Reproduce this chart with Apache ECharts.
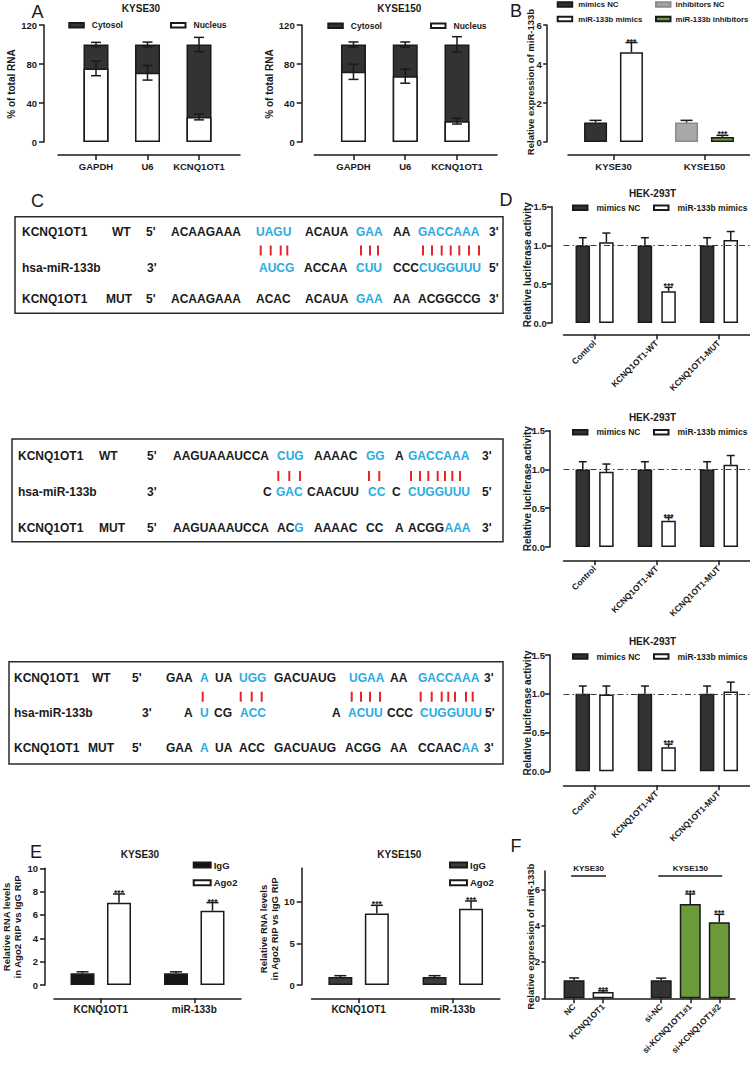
<!DOCTYPE html>
<html><head><meta charset="utf-8">
<script src="https://cdn.jsdelivr.net/npm/echarts@6/dist/echarts.min.js"></script>
<style>html,body{margin:0;padding:0;background:#fff;}#c{width:750px;height:1065px;}</style>
</head><body><div id="c"></div>
<script>
const FONT = '"Liberation Sans", Arial, Helvetica, sans-serif';
const INK = '#1a1a1a', DARK = '#333333', GREY = '#a8a8a8', GREEN = '#6b9b3a', BLUE = '#29abe2', RED = '#e52528';

// ---------------- DATA ----------------
// Panel A
const aCats = ['GAPDH', 'U6', 'KCNQ1OT1'];
const aTicks = [0, 40, 80, 120];
const aKyse30Nucleus = [75.4, 71, 25.7];
const aKyse30NucleusErr = [7.4, 7.5, 3];
const aKyse30Total = [100, 100, 100];
const aKyse30TotalErr = [2.2, 2.5, 7.3];
const aKyse150Nucleus = [72, 67.5, 21.3];
const aKyse150NucleusErr = [7.8, 7.2, 2.9];
const aKyse150Total = [100, 100, 100];
const aKyse150TotalErr = [2.6, 2.6, 8];
// Panel B
const bCats = ['KYSE30', 'KYSE150'];
const bTicks = [0, 2, 4, 6];
const bMimicsNC = [1.0, null], bMimicsNCErr = [0.11, null];
const bMimics = [4.6, null], bMimicsErr = [0.5, null], bMimicsStars = [1, 0];
const bInhibNC = [null, 1.0], bInhibNCErr = [null, 0.11];
const bInhib = [null, 0.26], bInhibErr = [null, 0.08], bInhibStars = [0, 1];
// Panel D
const dCats = ['Control', 'KCNQ1OT1-WT', 'KCNQ1OT1-MUT'];
const dTicks = [0, 0.5, 1.0, 1.5];
const d1NC = [1.0, 1.0, 1.0], d1NCErr = [0.1, 0.1, 0.1];
const d1Mim = [1.04, 0.41, 1.07], d1MimErr = [0.12, 0.05, 0.11];
const d2NC = [1.0, 1.0, 1.0], d2NCErr = [0.1, 0.1, 0.1];
const d2Mim = [0.97, 0.34, 1.06], d2MimErr = [0.1, 0.04, 0.12];
const d3NC = [1.0, 1.0, 1.0], d3NCErr = [0.1, 0.1, 0.1];
const d3Mim = [0.99, 0.31, 1.03], d3MimErr = [0.11, 0.04, 0.12];
const dStars = [0, 1, 0];
// Panel E
const eCats = ['KCNQ1OT1', 'miR-133b'];
const e1Ticks = [0, 2, 4, 6, 8, 10];
const e2Ticks = [0, 5, 10];
const e1IgG = [1.0, 1.0], e1IgGErr = [0.13, 0.13];
const e1Ago2 = [7.05, 6.37], e1Ago2Err = [0.75, 0.69];
const e2IgG = [0.95, 0.95], e2IgGErr = [0.17, 0.17];
const e2Ago2 = [8.59, 9.15], e2Ago2Err = [0.97, 0.93];
const eStars = [1, 1];
// Panel F
const fCats = ['NC', 'KCNQ1OT1', 'si-NC', 'si-KCNQ1OT1#1', 'si-KCNQ1OT1#2'];
const fGroupOf = [0, 0, 1, 1, 1];
const fGroupNames = ['KYSE30', 'KYSE150'];
const fTicks = [0, 2, 4, 6];
const fValues = [1.0, 0.34, 1.0, 5.19, 4.18];
const fErr = [0.12, 0.07, 0.11, 0.55, 0.44];
const fStars = [0, 1, 0, 1, 1];
const fColors = [DARK, '#ffffff', DARK, GREEN, GREEN];

// ---------------- BUILDERS ----------------
const grid = [], xAxis = [], yAxis = [], series = [], legend = [], graphic = [];
const lineStyle = { color: INK, width: 1.5 };
const lblBase = { color: INK, fontWeight: 'bold', fontFamily: FONT, fontSize: 9.5 };

function addGrid(g) { grid.push(Object.assign({ containLabel: false }, g)); return grid.length - 1; }
function yAxisV(gi, max, ticks, offset, fmt, margin, tickLen) {
  yAxis.push({ type: 'value', gridIndex: gi, min: 0, max: max, offset: offset,
    axisLine: { show: true, onZero: false, lineStyle },
    axisTick: { show: true, length: tickLen || 5, customValues: ticks, lineStyle },
    axisLabel: Object.assign({ customValues: ticks, margin: margin || 7, hideOverlap: false, formatter: fmt || (v => String(v)) }, lblBase),
    splitLine: { show: false } });
  return yAxis.length - 1;
}
function xAxisCat(gi, cats, offset, lbl) {
  xAxis.push({ type: 'category', gridIndex: gi, data: cats, offset: offset,
    axisLine: { show: true, onZero: false, lineStyle },
    axisTick: { show: true, alignWithLabel: true, interval: 0, length: 5, lineStyle },
    axisLabel: Object.assign({ interval: 0, margin: 6, hideOverlap: false }, lblBase, lbl || {}),
    splitLine: { show: false } });
  return xAxis.length - 1;
}
function xAxisVal(gi, min, max, ticks, fmt, offset, lbl) {
  xAxis.push({ type: 'value', gridIndex: gi, min: min, max: max, offset: offset,
    axisLine: { show: true, onZero: false, lineStyle },
    axisTick: { show: true, length: 5, customValues: ticks, lineStyle },
    axisLabel: Object.assign({ customValues: ticks, margin: 6, hideOverlap: false, formatter: fmt }, lblBase, lbl || {}),
    splitLine: { show: false } });
  return xAxis.length - 1;
}
function barSeries(name, xi, yi, data, color, width, gap, extra, border) {
  series.push(Object.assign({ type: 'bar', name: name, xAxisIndex: xi, yAxisIndex: yi, data: data,
    barWidth: width, barGap: gap, silent: true, animation: false, z: 2,
    itemStyle: { color: color, borderColor: border || INK, borderWidth: 1.5 },
    emphasis: { disabled: true } }, extra || {}));
}
function errSeries(xi, yi, items, capW) {
  series.push({ type: 'custom', xAxisIndex: xi, yAxisIndex: yi, silent: true, animation: false, z: 5, clip: false,
    data: items,
    renderItem: function (params, api) {
      const x = api.value(0), v = api.value(1), e = api.value(2), off = api.value(3), both = api.value(4), st = api.value(5);
      const pm = api.coord([x, v]), pt = api.coord([x, v + e]), pb = api.coord([x, v - e]);
      const cx = pm[0] + off;
      const s = { stroke: INK, lineWidth: 1.5 };
      const ch = [
        { type: 'line', shape: { x1: cx, y1: both ? pb[1] : pm[1], x2: cx, y2: pt[1] }, style: s },
        { type: 'line', shape: { x1: cx - capW / 2, y1: pt[1], x2: cx + capW / 2, y2: pt[1] }, style: s }
      ];
      if (both) ch.push({ type: 'line', shape: { x1: cx - capW / 2, y1: pb[1], x2: cx + capW / 2, y2: pb[1] }, style: s });
      if (st) ch.push({ type: 'text', x: cx, y: pt[1] - 1, style: { text: '***', fill: INK, font: 'bold 8.5px ' + FONT, align: 'center', verticalAlign: 'middle' } });
      return { type: 'group', children: ch };
    } });
}
function addLegend(name, left, yc, opt) {
  opt = opt || {};
  const d = { name: name };
  if (opt.itemStyle) d.itemStyle = opt.itemStyle;
  legend.push({ data: [d], left: left, top: yc - 5, orient: 'horizontal', padding: 0, itemGap: 0,
    itemWidth: opt.w || 14.5, itemHeight: opt.h || 4.5, icon: 'rect', selectedMode: false,
    textStyle: { color: INK, fontWeight: 'bold', fontFamily: FONT, fontSize: opt.size || 8.5, lineHeight: 10,
      padding: [0, 0, 0, opt.gap !== undefined ? opt.gap : 2] } });
}
function gText(text, x, y, o) {
  o = o || {};
  graphic.push({ type: 'text', x: x, y: y, rotation: o.rot ? o.rot * Math.PI / 180 : 0, silent: true, z: 10,
    style: { text: text, fill: o.fill || INK, font: (o.weight || 'bold') + ' ' + (o.size || 10) + 'px ' + FONT,
      align: o.align || 'center', verticalAlign: 'middle', lineHeight: o.lh || undefined } });
}
function gLine(x1, y1, x2, y2, color, w) {
  graphic.push({ type: 'line', silent: true, z: 10, shape: { x1, y1, x2, y2 }, style: { stroke: color, lineWidth: w } });
}
function gRect(x, y, w, h) {
  graphic.push({ type: 'rect', silent: true, z: 1, shape: { x, y, width: w, height: h }, style: { fill: 'none', stroke: '#2a2a2a', lineWidth: 1.5 } });
}

// ---------------- PANEL A ----------------
function panelA(box, yOff, xOff, xMin, xMax, nuc, nucErr, tot, totErr) {
  const g = addGrid(box);
  const xi = xAxisVal(g, xMin, xMax, aCats.map((c, i) => i), v => aCats[Math.round(v)] || '', xOff);
  const yi = yAxisV(g, 120, aTicks, yOff);
  barSeries('Cytosol', xi, yi, tot.map((v, i) => [i, v]), DARK, 25, '-100%');
  barSeries('Nucleus', xi, yi, nuc.map((v, i) => [i, v]), '#ffffff', 25, '-100%');
  const items = [];
  nuc.forEach((v, i) => items.push([i, v, nucErr[i], 0, 1, 0]));
  tot.forEach((v, i) => items.push([i, v, totErr[i], 0, 1, 0]));
  errSeries(xi, yi, items, 10);
}
panelA({ left: 58, top: 25, width: 182, height: 117 }, 14, 13, -0.738, 2.796, aKyse30Nucleus, aKyse30NucleusErr, aKyse30Total, aKyse30TotalErr);
panelA({ left: 314.3, top: 25, width: 182.7, height: 117 }, 12.6, 13, -0.757, 2.773, aKyse150Nucleus, aKyse150NucleusErr, aKyse150Total, aKyse150TotalErr);
addLegend('Cytosol', 68.3, 25.3, { gap: 3 });
addLegend('Nucleus', 170, 25.3, { gap: 3 });
addLegend('Cytosol', 327.3, 25.7, { gap: 3 });
addLegend('Nucleus', 430, 25.7, { gap: 3 });

// ---------------- PANEL B ----------------
(function () {
  const g = addGrid({ left: 568, top: 25, width: 182, height: 117 });
  const xi = xAxisCat(g, bCats, 13);
  const yi = yAxisV(g, 6, bTicks, 21.3, null, 5, 3.5);
  const W = 23, gap = 0.56, off = W * (1 + gap) / 2;
  const defs = [
    { name: 'mimics NC', data: bMimicsNC, err: bMimicsNCErr, color: DARK, stack: 'L', slot: -1, stars: [0, 0] },
    { name: 'miR-133b mimics', data: bMimics, err: bMimicsErr, color: '#ffffff', stack: 'R', slot: 1, stars: bMimicsStars },
    { name: 'inhibitors NC', data: bInhibNC, err: bInhibNCErr, color: GREY, stack: 'L', slot: -1, stars: [0, 0], border: '#8a8a8a' },
    { name: 'miR-133b inhibitors', data: bInhib, err: bInhibErr, color: GREEN, stack: 'R', slot: 1, stars: bInhibStars }
  ];
  const items = [];
  defs.forEach(d => {
    barSeries(d.name, xi, yi, d.data, d.color, W, (gap * 100) + '%', { stack: d.stack }, d.border);
    d.data.forEach((v, i) => { if (v != null) items.push([i, v, d.err[i], d.slot * off, 0, d.stars[i]]); });
  });
  errSeries(xi, yi, items, 12);
})();
addLegend('mimics NC', 556.7, 4.5, { gap: 1, size: 7.8 });
addLegend('inhibitors NC', 655, 4.5, { gap: 0, size: 7.8, itemStyle: { borderColor: '#8a8a8a' } });
addLegend('miR-133b mimics', 556.7, 19, { gap: 1, size: 7.8 });
addLegend('miR-133b inhibitors', 655, 19, { gap: 0, size: 7.8 });

// ---------------- PANEL D ----------------
const dSets = [
  { top: 206.7, xOff: 11.6, yOff: 11.8, nc: d1NC, ncErr: d1NCErr, mim: d1Mim, mimErr: d1MimErr, legY: 207.7 },
  { top: 430.7, xOff: 13.3, yOff: 13.5, nc: d2NC, ncErr: d2NCErr, mim: d2Mim, mimErr: d2MimErr, legY: 432.2 },
  { top: 655.0, xOff: 14.0, yOff: 13.5, nc: d3NC, ncErr: d3NCErr, mim: d3Mim, mimErr: d3MimErr, legY: 656.5 }
];
dSets.forEach(s => {
  const g = addGrid({ left: 563.5, top: s.top, width: 188.3, height: 116.3 });
  const xi = xAxisCat(g, dCats, s.xOff, { rotate: 45, fontSize: 8.5, margin: 7 });
  const yi = yAxisV(g, 1.5, dTicks, s.yOff, v => v.toFixed(1), 5);
  const W = 14.5, gap = 0.63, off = W * (1 + gap) / 2;
  barSeries('mimics NC', xi, yi, s.nc, DARK, W, (gap * 100) + '%');
  barSeries('miR-133b mimics', xi, yi, s.mim, '#ffffff', W, (gap * 100) + '%', {
    markLine: { silent: true, symbol: ['none', 'none'], animation: false, z: 4,
      label: { show: false }, lineStyle: { color: '#3a3a3a', width: 1, type: [6, 3, 1.5, 3] },
      data: [{ yAxis: 1.0 }] } });
  const items = [];
  s.nc.forEach((v, i) => items.push([i, v, s.ncErr[i], -off, 0, 0]));
  s.mim.forEach((v, i) => items.push([i, v, s.mimErr[i], off, 0, dStars[i]]));
  errSeries(xi, yi, items, 8);
  addLegend('mimics NC', 572, s.legY, { gap: 4 });
  addLegend('miR-133b mimics', 653, s.legY, { gap: 4 });
  gText('HEK-293T', 652.5, s.top - 13.2, { size: 10 });
  gText('Relative luciferase activity', 527, s.top + 58, { size: 10, rot: 90 });
});

// ---------------- PANEL E ----------------
function panelE(box, yOff, max, ticks, ig, igErr, ago, agoErr, igColor) {
  const g = addGrid(box);
  const xi = xAxisCat(g, eCats, 13.3, { fontSize: 10, margin: 6 });
  const yi = yAxisV(g, max, ticks, yOff);
  const W = 24, gap = 0.52, off = W * (1 + gap) / 2;
  barSeries('IgG', xi, yi, ig, igColor, W, (gap * 100) + '%');
  barSeries('Ago2', xi, yi, ago, '#ffffff', W, (gap * 100) + '%');
  const items = [];
  ig.forEach((v, i) => items.push([i, v, igErr[i], -off, 0, 0]));
  ago.forEach((v, i) => items.push([i, v, agoErr[i], off, 0, eStars[i]]));
  errSeries(xi, yi, items, 12);
}
panelE({ left: 54, top: 868.3, width: 187, height: 116.7 }, 9, 10, e1Ticks, e1IgG, e1IgGErr, e1Ago2, e1Ago2Err, '#151515');
panelE({ left: 311.5, top: 868.3, width: 188.4, height: 116.7 }, 9.8, 14, e2Ticks, e2IgG, e2IgGErr, e2Ago2, e2Ago2Err, '#3c3c3c');
addLegend('IgG', 192.7, 865, { w: 17, h: 5, size: 9.5, gap: -2 });
addLegend('Ago2', 192.7, 882.7, { w: 17, h: 5, size: 9.5, gap: -2 });
addLegend('IgG', 449, 865, { w: 17, h: 5, size: 9.5, gap: -2, itemStyle: { color: '#3c3c3c' } });
addLegend('Ago2', 449, 882.7, { w: 17, h: 5, size: 9.5, gap: -2 });

// ---------------- PANEL F ----------------
(function () {
  const fPos = fCats.map((c, i) => i + fGroupOf[i]);
  const g = addGrid({ left: 545, top: 871.1, width: 190, height: 127.2 });
  const xi = xAxisVal(g, -1, 5.54, fPos, v => fCats[fPos.indexOf(Math.round(v))] || '', 0, { rotate: 45, fontSize: 8.5, margin: 7 });
  const yi = yAxisV(g, 7, fTicks, 0, null, 5, 3.5);
  const groupLines = fGroupNames.map((nm, gi) => {
    const ps = fPos.filter((p, i) => fGroupOf[i] === gi);
    return [{ coord: [Math.min(...ps) - 0.1, 6.75], name: nm }, { coord: [Math.max(...ps) + 0.1, 6.75] }];
  });
  barSeries('F', xi, yi, fValues.map((v, i) => ({ value: [fPos[i], v], itemStyle: { color: fColors[i] } })), DARK, 21, '-100%', {
    markLine: { silent: true, symbol: ['none', 'none'], animation: false,
      lineStyle: { color: INK, width: 1.5, type: 'solid' },
      label: { show: true, position: 'insideMiddleTop', distance: 3, formatter: '{b}', color: INK, fontWeight: 'bold', fontFamily: FONT, fontSize: 8 },
      data: groupLines } });
  errSeries(xi, yi, fValues.map((v, i) => [fPos[i], v, fErr[i], 0, 0, fStars[i]]), 10);
})();

// ---------------- TEXTS (titles, axis names, panel letters) ----------------
gText('KYSE30', 141, 8.5, { size: 10 });
gText('KYSE150', 399.3, 8.5, { size: 10 });
gText('% of total RNA', 11, 84, { size: 10, rot: 90 });
gText('% of total RNA', 269, 84, { size: 10, rot: 90 });
gText('Relative expression of miR-133b', 530, 82, { size: 9.5, rot: 90 });
gText('KYSE30', 140, 854, { size: 10 });
gText('KYSE150', 399.3, 854, { size: 10 });
gText('Relative RNA levels\nin Ago2 RIP vs IgG RIP', 11.5, 927, { size: 9.5, rot: 90, lh: 11 });
gText('Relative RNA levels\nin Ago2 RIP vs IgG RIP', 268.5, 929, { size: 9.5, rot: 90, lh: 11 });
gText('Relative expression of miR-133b', 530, 936.7, { size: 9.5, rot: 90 });
[['A', 37.5, 11.5], ['B', 516, 11], ['C', 37.5, 201], ['D', 506, 200], ['E', 36, 852], ['F', 516, 846]]
  .forEach(p => gText(p[0], p[1], p[2], { size: 18, weight: 'normal' }));

// ---------------- PANEL C (sequence alignments) ----------------
const seqBoxes = [
  { rect: [15, 216.7, 488, 96.6], pairY: 250.5, rows: [
    { y: 231.5, segs: [['KCNQ1OT1', 22], ['WT', 112], ["5'", 146], ['ACAAGAAA', 171], ['UAGU', 256, 1], ['ACAUA', 305], ['GAA', 356, 1], ['AA', 393], ['GACCAAA', 418, 1], ["3'", 489]] },
    { y: 267.5, segs: [['hsa-miR-133b', 22], ["3'", 147], ['AUCG', 259, 1], ['ACCAA', 304], ['CUU', 356, 1], ['CCC', 393], ['CUGGUUU', 419, 1], ["5'", 489]] },
    { y: 299, segs: [['KCNQ1OT1', 22], ['MUT', 106], ["5'", 146], ['ACAAGAAA', 171], ['ACAC', 256], ['ACAUA', 305], ['GAA', 356, 1], ['AA', 393], ['ACGGCCG', 418], ["3'", 489]] }
  ], pairs: [260.7, 270.7, 280.7, 287.3, 361, 370, 378, 423, 432, 441.7, 450.7, 459.3, 469, 479] },
  { rect: [12, 439, 491, 102.7], pairY: 476, rows: [
    { y: 456.3, segs: [['KCNQ1OT1', 18], ['WT', 99], ["5'", 147], ['AAGUAAAUCCA', 173], ['CUG', 277, 1], ['AAAAC', 314], ['GG', 366, 1], ['A', 395], ['GACCAAA', 408, 1], ["3'", 482]] },
    { y: 492.3, segs: [['hsa-miR-133b', 18], ["3'", 147], ['C', 263], ['GAC', 276, 1], ['CAACUU', 307], ['CC', 368, 1], ['C', 392], ['CUGGUUU', 408, 1], ["5'", 482]] },
    { y: 528.3, segs: [['KCNQ1OT1', 18], ['MUT', 99], ["5'", 147], ['AAGUAAAUCCA', 173], ['AC', 277], ['G', 294.3, 1], ['AAAAC', 314], ['CC', 366], ['A', 395], ['ACGG', 408], ['AAA', 444.5, 1], ["3'", 482]] }
  ], pairs: [278.3, 289.3, 300, 369, 379.3, 411, 420, 428.3, 437.7, 445, 452.3, 460] },
  { rect: [9, 661.7, 494, 102.3], pairY: 696.7, rows: [
    { y: 678.3, segs: [['KCNQ1OT1', 14], ['WT', 92], ["5'", 132], ['GAA', 166], ['A', 200, 1], ['UA', 215], ['UGG', 239, 1], ['GACUAUG', 274], ['UGAA', 349, 1], ['AA', 390], ['GACCAAA', 418, 1], ["3'", 484]] },
    { y: 712.7, segs: [['hsa-miR-133b', 14], ["3'", 142], ['A', 184], ['U', 200, 1], ['CG', 214], ['ACC', 240, 1], ['A', 332], ['ACUU', 348, 1], ['CCC', 387], ['CUGGUUU', 420, 1], ["5'", 485]] },
    { y: 748.3, segs: [['KCNQ1OT1', 14], ['MUT', 88], ["5'", 132], ['GAA', 166], ['A', 200, 1], ['UA', 215], ['ACC', 239], ['GACUAUG', 274], ['ACGG', 345], ['AA', 390], ['CCAAC', 418], ['AA', 461.5, 1], ["3'", 484]] }
  ], pairs: [202.7, 240.7, 251.7, 261.7, 351.7, 361, 370, 380, 420.7, 431.7, 441.7, 448.3, 455, 466, 472.7] }
];
seqBoxes.forEach(b => {
  gRect(b.rect[0], b.rect[1], b.rect[2], b.rect[3]);
  b.rows.forEach(r => r.segs.forEach(s => gText(s[0], s[1], r.y, { size: 12, align: 'left', fill: s[2] ? BLUE : INK })));
  b.pairs.forEach(x => gLine(x, b.pairY - 5, x, b.pairY + 5, RED, 2));
});

const option = { animation: false, backgroundColor: '#ffffff', grid, xAxis, yAxis, series, legend, graphic };
const chart = echarts.init(document.getElementById('c'), null, { renderer: 'svg', width: 750, height: 1065 });
chart.setOption(option);
</script>
</body></html>
